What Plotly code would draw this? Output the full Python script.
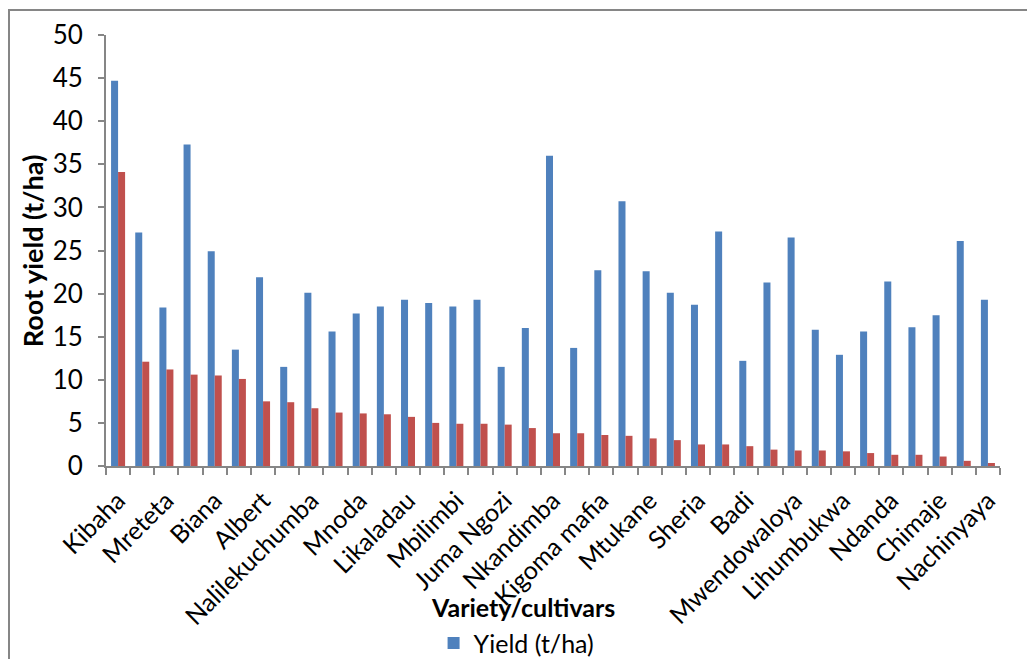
import plotly.graph_objects as go

# Variety names shown on the axis (every second variety is labelled)
labelled_varieties = [
    "Kibaha", "Mreteta", "Biana", "Albert", "Nalilekuchumba", "Mnoda",
    "Likaladau", "Mbilimbi", "Juma Ngozi", "Nkandimba", "Kigoma mafia",
    "Mtukane", "Sheria", "Badi", "Mwendowaloya", "Lihumbukwa", "Ndanda",
    "Chimaje", "Nachinyaya",
]

# Root yield (t/ha) per variety, in plotting order
yield_t_ha = [
    44.7, 27.1, 18.4, 37.3, 24.9, 13.5, 21.9, 11.5, 20.1, 15.6,
    17.7, 18.5, 19.3, 18.9, 18.5, 19.3, 11.5, 16.0, 36.0, 13.7,
    22.7, 30.7, 22.6, 20.1, 18.7, 27.2, 12.2, 21.3, 26.5, 15.8,
    12.9, 15.6, 21.4, 16.1, 17.5, 26.1, 19.3,
]

# Second series (red bars)
second_series = [
    34.1, 12.1, 11.2, 10.6, 10.5, 10.1, 7.5, 7.4, 6.7, 6.2,
    6.1, 6.0, 5.7, 5.0, 4.9, 4.9, 4.8, 4.4, 3.8, 3.8,
    3.6, 3.5, 3.2, 3.0, 2.5, 2.5, 2.3, 1.9, 1.8, 1.8,
    1.7, 1.5, 1.3, 1.3, 1.1, 0.6, 0.35,
]

y_ticks = [0, 5, 10, 15, 20, 25, 30, 35, 40, 45, 50]

positions = list(range(len(yield_t_ha)))
label_positions = positions[::2]
boundaries = [p - 0.5 for p in positions] + [positions[-1] + 0.5]

BLUE = "#4F81BD"
RED = "#C0504D"
AXIS = "#868686"
FONT = "Lato, 'Open Sans', sans-serif"

fig = go.Figure()
fig.add_trace(go.Bar(
    x=positions, y=yield_t_ha, name="Yield (t/ha)",
    marker=dict(color=BLUE, line=dict(width=0)),
))
fig.add_trace(go.Bar(
    x=positions, y=second_series, name="",
    marker=dict(color=RED, line=dict(width=0)), showlegend=False,
))

fig.update_layout(
    width=1027, height=659,
    margin=dict(l=106, r=27, t=35, b=193),
    paper_bgcolor="white", plot_bgcolor="white",
    barmode="group", bargap=0.42, bargroupgap=0,
    font=dict(family=FONT, size=26, color="black"),
    showlegend=True,
    legend=dict(
        orientation="h", xref="container", yref="container",
        x=0.503, xanchor="center", y=0.024, yanchor="middle",
        font=dict(size=25), itemwidth=30,
    ),
)

fig.update_xaxes(
    range=[-0.5, len(positions) - 0.5], automargin=False,
    tickmode="array", tickvals=label_positions, ticktext=labelled_varieties,
    tickangle=-45, ticks="", showgrid=False, zeroline=False,
    showline=True, linecolor=AXIS, linewidth=2,
    tickfont=dict(size=25), ticklabelstandoff=8,
    minor=dict(tickmode="array", tickvals=boundaries, ticks="outside",
               ticklen=7, tickwidth=2, tickcolor=AXIS, showgrid=False),
)

fig.update_yaxes(
    range=[0, 50], tickmode="array", tickvals=y_ticks, automargin=False,
    ticks="outside", ticklen=6, tickwidth=2, tickcolor=AXIS,
    showline=True, linecolor=AXIS, linewidth=2,
    showgrid=False, zeroline=False, tickfont=dict(size=26),
    ticklabelstandoff=10,
)

# Axis titles
fig.add_annotation(
    text="<b>Root yield (t/ha)</b>", xref="paper", yref="paper",
    x=-0.082, y=0.5, textangle=-90, showarrow=False,
    font=dict(size=27), xanchor="center", yanchor="middle",
)
fig.add_annotation(
    text="<b>Variety/cultivars</b>", xref="paper", yref="paper",
    x=0.466, y=-0.327, showarrow=False,
    font=dict(size=25), xanchor="center", yanchor="middle",
)

# Chart frame
fig.add_shape(
    type="rect", xref="paper", yref="paper",
    x0=-0.1085, x1=1.2, y0=-1.0, y1=1.058,
    line=dict(color=AXIS, width=2), fillcolor="rgba(0,0,0,0)", layer="below",
)

fig.write_html("out.html")
